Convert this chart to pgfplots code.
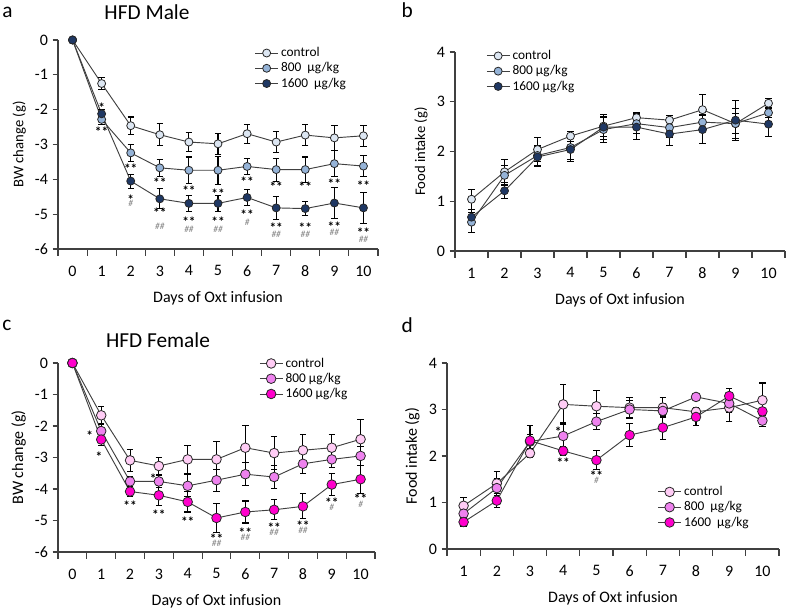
\documentclass[border=0pt]{standalone}
\usepackage{fontspec}
\setmainfont{Carlito}
\usepackage{pgfplots}
\pgfplotsset{compat=1.18}

\definecolor{mA}{HTML}{DCE6F2}
\definecolor{mB}{HTML}{95B3D7}
\definecolor{mC}{HTML}{1F3864}
\definecolor{fA}{HTML}{FFCCF5}
\definecolor{fB}{HTML}{EE82EE}
\definecolor{fC}{HTML}{FF00CC}
\definecolor{ln}{HTML}{404040}

\tikzset{
  st/.style={font=\bfseries\fontsize{10}{10}\selectfont, inner sep=0pt, yshift=-2.6pt},
  hs/.style={font=\itshape\fontsize{7}{7}\selectfont, text=black!50, inner sep=0pt},
}

\pgfplotsset{
  panel/.style={
    scale only axis,
    axis lines*=left,
    axis line style={ln, line width=0.8pt},
    tick align=outside,
    xtick pos=bottom, ytick pos=left,
    major x tick style={draw=none},
    minor x tick style={ln, line width=0.8pt},
    minor tick length=5pt,
    major tick length=4pt,
    ytick style={ln, line width=0.8pt},
    /pgf/number format/assume math mode=true,
    tick label style={font=\fontsize{12}{14}\selectfont},
    xticklabel style={yshift=-5pt},
    label style={font=\fontsize{12}{14}\selectfont},
    xlabel={Days of Oxt infusion},
    xlabel style={yshift=-4pt},
    legend style={draw=none, fill=none, font=\fontsize{10}{12}\selectfont,
      row sep=-1pt, inner sep=1pt},
    legend cell align=left,
    clip=false,
  },
  bw/.style={panel, xmin=-0.5, xmax=10.5, ymin=-6, ymax=0,
    xtick={0,...,10}, xticklabels={0,1,2,3,4,5,6,7,8,9,10},
    minor xtick={-0.5,0.5,...,10.5},
    ytick={-6,-5,...,0}, yticklabels={-6,-5,-4,-3,-2,-1,0},
    ylabel={BW change (g)}},
  fi/.style={panel, xmin=0.5, xmax=10.5, ymin=0, ymax=4,
    xtick={1,...,10}, xticklabels={1,2,3,4,5,6,7,8,9,10},
    minor xtick={0.5,1.5,...,10.5},
    ytick={0,1,...,4}, yticklabels={0,1,2,3,4}, ylabel={Food intake (g)}},
  toprow/.style={ylabel style={font=\fontsize{11}{13}\selectfont}},
  ser/.style 2 args={ln, line width=0.7pt, mark=*, mark size=#1,
    mark options={draw=black!85, fill=#2, line width=0.6pt},
    error bars/y dir=both, error bars/y explicit,
    error bars/error mark=-,
    error bars/error mark options={rotate=90, black, mark size=2.4pt, line width=0.8pt},
    error bars/error bar style={black, line width=0.8pt}},
}

\begin{document}
\begin{tikzpicture}
\path[use as bounding box] (0,0) rectangle (590.25pt,456.75pt);

% panel a
\begin{axis}[bw, toprow, at={(43.5pt,270pt)}, anchor=south west,
  width=240pt, height=156.75pt,
  legend style={at={(rel axis cs:0.61,0.985)}, anchor=north west}]
\addplot[ser={3pt}{mA}] table[x=x,y=y,y error=e] {
x y e
0 0 0
1 -1.25 0.17
2 -2.46 0.25
3 -2.72 0.32
4 -2.93 0.27
5 -2.98 0.30
6 -2.69 0.27
7 -2.93 0.30
8 -2.73 0.30
9 -2.81 0.35
10 -2.75 0.30
};
\addlegendentry{control}
\addplot[ser={3pt}{mB}] table[x=x,y=y,y error=e] {
x y e
0 0 0
1 -2.28 0.15
2 -3.24 0.24
3 -3.67 0.25
4 -3.74 0.38
5 -3.74 0.40
6 -3.63 0.22
7 -3.72 0.33
8 -3.72 0.36
9 -3.55 0.37
10 -3.62 0.30
};
\addlegendentry{800~~µg/kg}
\addplot[ser={3pt}{mC}] table[x=x,y=y,y error=e] {
x y e
0 0 0
1 -2.12 0.12
2 -4.05 0.20
3 -4.56 0.29
4 -4.69 0.23
5 -4.69 0.23
6 -4.52 0.23
7 -4.82 0.34
8 -4.84 0.21
9 -4.68 0.45
10 -4.82 0.45
};
\addlegendentry{1600~~µg/kg}
\node[st] at (axis cs:1,-1.85) {*};
\node[st] at (axis cs:1,-2.53) {**};
\node[st] at (axis cs:2,-3.60) {**};
\node[st] at (axis cs:2,-4.49) {*};
\node[hs] at (axis cs:2,-4.68) {\#};
\node[st] at (axis cs:3,-3.99) {**};
\node[st] at (axis cs:3,-4.87) {**};
\node[hs] at (axis cs:3,-5.35) {\#\#};
\node[st] at (axis cs:4,-4.23) {**};
\node[st] at (axis cs:4,-5.11) {**};
\node[hs] at (axis cs:4,-5.45) {\#\#};
\node[st] at (axis cs:5,-4.30) {**};
\node[st] at (axis cs:5,-5.11) {**};
\node[hs] at (axis cs:5,-5.45) {\#\#};
\node[st] at (axis cs:6,-3.96) {**};
\node[st] at (axis cs:6,-4.92) {**};
\node[hs] at (axis cs:6,-5.23) {\#};
\node[st] at (axis cs:7,-4.10) {**};
\node[st] at (axis cs:7,-5.30) {**};
\node[hs] at (axis cs:7,-5.59) {\#\#};
\node[st] at (axis cs:8,-4.10) {**};
\node[st] at (axis cs:8,-5.30) {**};
\node[hs] at (axis cs:8,-5.58) {\#\#};
\node[st] at (axis cs:9,-4.03) {**};
\node[st] at (axis cs:9,-5.25) {**};
\node[hs] at (axis cs:9,-5.52) {\#\#};
\node[st] at (axis cs:10,-4.08) {**};
\node[st] at (axis cs:10,-5.44) {**};
\node[hs] at (axis cs:10,-5.71) {\#\#};
\end{axis}

% panel b
\begin{axis}[fi, toprow, at={(341.25pt,268.5pt)}, anchor=south west,
  width=247.5pt, height=149.25pt,
  legend style={at={(rel axis cs:0.09,1.03)}, anchor=north west}]
\addplot[ser={3pt}{mA}] table[x=x,y=y,y error=e] {
x y e
1 1.04 0.20
2 1.59 0.25
3 2.04 0.25
4 2.31 0.10
5 2.51 0.20
6 2.68 0.10
7 2.63 0.10
8 2.84 0.30
9 2.56 0.20
10 2.97 0.10
};
\addlegendentry{control}
\addplot[ser={3pt}{mB}] table[x=x,y=y,y error=e] {
x y e
1 0.58 0.20
2 1.52 0.20
3 1.92 0.20
4 2.08 0.25
5 2.44 0.25
6 2.56 0.20
7 2.48 0.20
8 2.59 0.15
9 2.56 0.30
10 2.78 0.10
};
\addlegendentry{800 µg/kg}
\addplot[ser={3pt}{mC}] table[x=x,y=y,y error=e] {
x y e
1 0.68 0.15
2 1.21 0.16
3 1.89 0.20
4 2.04 0.25
5 2.49 0.25
6 2.49 0.25
7 2.35 0.23
8 2.44 0.28
9 2.63 0.40
10 2.55 0.25
};
\addlegendentry{1600 µg/kg}
\end{axis}

% panel c
\begin{axis}[bw, at={(43.5pt,42.75pt)}, anchor=south west,
  width=237.75pt, height=141.75pt,
  legend style={at={(rel axis cs:0.63,1.05)}, anchor=north west}]
\addplot[ser={3.6pt}{fA}] table[x=x,y=y,y error=e] {
x y e
0 0 0
1 -1.66 0.27
2 -3.09 0.35
3 -3.27 0.28
4 -3.06 0.44
5 -3.06 0.58
6 -2.69 0.71
7 -2.86 0.53
8 -2.77 0.50
9 -2.69 0.42
10 -2.42 0.62
};
\addlegendentry{control}
\addplot[ser={3.6pt}{fB}] table[x=x,y=y,y error=e] {
x y e
0 0 0
1 -2.16 0.20
2 -3.76 0.15
3 -3.76 0.20
4 -3.90 0.35
5 -3.72 0.35
6 -3.53 0.37
7 -3.62 0.37
8 -3.20 0.32
9 -3.06 0.25
10 -2.95 0.30
};
\addlegendentry{800 µg/kg}
\addplot[ser={3.6pt}{fC}] table[x=x,y=y,y error=e] {
x y e
0 0 0
1 -2.43 0.20
2 -4.08 0.15
3 -4.20 0.32
4 -4.41 0.32
5 -4.92 0.45
6 -4.73 0.35
7 -4.66 0.32
8 -4.55 0.40
9 -3.86 0.35
10 -3.69 0.45
};
\addlegendentry{1600 µg/kg}
\node[st] at (axis cs:0.6,-2.21) {*};
\node[st] at (axis cs:0.92,-2.88) {*};
\node[st] at (axis cs:2,-4.41) {**};
\node[st] at (axis cs:2.8,-3.57) {*};
\node[st] at (axis cs:3,-4.70) {**};
\node[st] at (axis cs:4,-4.94) {**};
\node[st] at (axis cs:5,-5.47) {**};
\node[hs] at (axis cs:5,-5.71) {\#\#};
\node[st] at (axis cs:6,-5.29) {**};
\node[hs] at (axis cs:6,-5.52) {\#\#};
\node[st] at (axis cs:7,-5.12) {**};
\node[hs] at (axis cs:7,-5.39) {\#\#};
\node[st] at (axis cs:8,-5.05) {**};
\node[hs] at (axis cs:8,-5.31) {\#\#};
\node[st] at (axis cs:9,-4.34) {**};
\node[hs] at (axis cs:9,-4.59) {\#};
\node[st] at (axis cs:10,-4.20) {**};
\node[hs] at (axis cs:10,-4.49) {\#};
\end{axis}

% panel d
\begin{axis}[fi, at={(335.25pt,45pt)}, anchor=south west,
  width=249pt, height=139.5pt,
  legend style={at={(rel axis cs:0.63,0.36)}, anchor=north west}]
\addplot[ser={3.6pt}{fA}] table[x=x,y=y,y error=e] {
x y e
1 0.93 0.18
2 1.41 0.25
3 2.06 0.10
4 3.11 0.43
5 3.07 0.34
6 3.04 0.22
7 3.04 0.22
8 2.95 0.10
9 3.04 0.30
10 3.20 0.37
};
\addlegendentry{control}
\addplot[ser={3.6pt}{fB}] table[x=x,y=y,y error=e] {
x y e
1 0.76 0.15
2 1.31 0.20
3 2.31 0.15
4 2.43 0.28
5 2.74 0.17
6 3.00 0.20
7 2.97 0.15
8 3.27 0.08
9 3.13 0.20
10 2.76 0.12
};
\addlegendentry{800~~µg/kg}
\addplot[ser={3.6pt}{fC}] table[x=x,y=y,y error=e] {
x y e
1 0.58 0.10
2 1.04 0.15
3 2.33 0.32
4 2.11 0.10
5 1.91 0.20
6 2.45 0.25
7 2.61 0.25
8 2.84 0.18
9 3.29 0.17
10 2.96 0.20
};
\addlegendentry{1600~~µg/kg}
\node[st] at (axis cs:3.85,2.60) {*};
\node[st] at (axis cs:4,1.93) {**};
\node[st] at (axis cs:5,1.64) {**};
\node[hs] at (axis cs:5,1.47) {\#};
\end{axis}

% panel letters and titles
\node[font=\fontsize{16}{18}\selectfont, anchor=west, inner sep=0pt] at (1.5pt,447.5pt) {a};
\node[font=\fontsize{16}{18}\selectfont, anchor=center, inner sep=0pt] at (110.25pt,447.5pt) {HFD Male};
\node[font=\fontsize{16}{18}\selectfont, anchor=west, inner sep=0pt] at (301pt,449pt) {b};
\node[font=\fontsize{16}{18}\selectfont, anchor=west, inner sep=0pt] at (1.5pt,212.5pt) {c};
\node[font=\fontsize{16}{18}\selectfont, anchor=center, inner sep=0pt] at (118.5pt,201.5pt) {HFD Female};
\node[font=\fontsize{16}{18}\selectfont, anchor=west, inner sep=0pt] at (301pt,212.5pt) {d};
\end{tikzpicture}
\end{document}
